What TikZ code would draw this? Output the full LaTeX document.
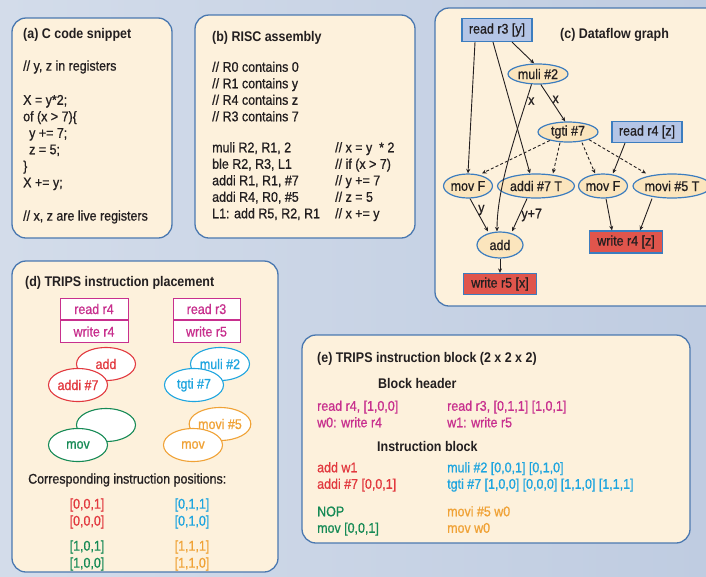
\documentclass[tikz,border=0pt]{standalone}
\usepackage{fontspec}
\setmainfont{Liberation Sans}[FakeStretch=0.89, UprightFeatures={FakeBold=0.8}]
\usetikzlibrary{shapes.geometric,arrows.meta}

\definecolor{bgL}{HTML}{D3DCEA}
\definecolor{bgM}{HTML}{EEF1F7}
\definecolor{bgR}{HTML}{BFCCE1}
\definecolor{panelfill}{HTML}{FDF1DC}
\definecolor{panelline}{HTML}{4A78B0}
\definecolor{nodefill}{HTML}{FBE5BD}
\definecolor{nodeline}{HTML}{3C7DBF}
\definecolor{readfill}{HTML}{B4C5E6}
\definecolor{writefill}{HTML}{E0554C}
\definecolor{ink}{HTML}{231F20}
\definecolor{cred}{HTML}{E2393F}
\definecolor{cblue}{HTML}{1EA5DF}
\definecolor{cgreen}{HTML}{168A55}
\definecolor{corange}{HTML}{F0A236}
\definecolor{cmag}{HTML}{C8308E}

\newcommand\bodyfont{\fontsize{14}{16.5}\selectfont}
\newcommand\posfont{\fontsize{14}{17}\selectfont}

\tikzset{
  panel/.style={draw=panelline, line width=1.3pt, fill=panelfill, rounded corners=14pt},
  txt/.style={inner sep=0pt, anchor=west, font=\bodyfont, text=ink},
  ttl/.style={txt, font=\bodyfont\bfseries},
  block/.style={inner sep=0pt, anchor=north west, align=left, font=\bodyfont, text=ink},
  posblock/.style={inner sep=0pt, anchor=north, align=center, font=\posfont},
  dfop/.style={ellipse, draw=nodeline, fill=nodefill, line width=1.2pt, inner sep=0pt,
               minimum height=24pt, font=\bodyfont, text=ink},
  dfread/.style={rectangle, draw=nodeline, fill=readfill, line width=1.2pt, inner sep=0pt,
                 minimum width=70pt, minimum height=23pt, font=\bodyfont, text=ink},
  dfwrite/.style={dfread, fill=writefill},
  flow/.style={draw=ink, line width=0.9pt, -{Stealth[length=4.5pt,width=4pt]}},
  pred/.style={flow, dash pattern=on 3pt off 2.2pt},
  elbl/.style={font=\bodyfont, inner sep=1.5pt, text=ink},
  slot/.style={ellipse, fill=white, line width=1.1pt, inner sep=0pt,
               minimum width=59pt, minimum height=33pt, font=\bodyfont},
  regbox/.style={rectangle, draw=cmag, fill=white, line width=1pt, text=cmag,
                 minimum width=68pt, minimum height=21.5pt, inner sep=0pt, font=\bodyfont},
}

\begin{document}
\begin{tikzpicture}[x=1pt,y=-1pt]
\useasboundingbox (0,0) rectangle (706,576);
\clip (0,0) rectangle (706,576);
\shade[left color=bgL, middle color=bgM, right color=bgR] (0,0) rectangle (706,576);

% ---------- panels ----------
\draw[panel] (12,18) rectangle (172,238);
\draw[panel] (195,15) rectangle (415,238);
\draw[panel] (435,8) rectangle (730,306);
\draw[panel] (12,261) rectangle (278,572);
\draw[panel] (302,335) rectangle (690,543);

% ---------- (a) C code ----------
\node[ttl] (atitle) at (23,35) {(a) C code snippet};
\node[txt] (acmt1) at (23,67) {// y, z in registers};
\node[block] (acode) at (23,93) {\strut X = y*2;\\of (x > 7)\{\\\hspace{6pt}y += 7;\\\hspace{6pt}z = 5;\\\}\\X += y;};
\node[txt] (acmt2) at (23,217) {// x, z are live registers};

% ---------- (b) RISC assembly ----------
\node[ttl] (btitle) at (212,38) {(b) RISC assembly};
\node[block] (bregs) at (212,60) {\strut // R0 contains 0\\// R1 contains y\\// R4 contains z\\// R3 contains 7};
\node[block] (binstr) at (212,140.5) {\strut muli R2, R1, 2\\ble R2, R3, L1\\addi R1, R1, \#7\\addi R4, R0, \#5\\L1: add R5, R2, R1};
\node[block] (bcmt) at (335,140.5) {\strut // x = y \ * 2\\// if (x > 7)\\// y += 7\\// z = 5\\// x += y};

% ---------- (c) dataflow graph ----------
\node[ttl] (ctitle) at (560,35) {(c) Dataflow graph};
\node[dfread] (r3) at (497,30) {read r3 [y]};
\node[dfop, minimum width=60pt, minimum height=20pt] (muli) at (538,74) {muli \#2};
\node[dfop, minimum width=60pt, minimum height=20pt] (tgti) at (568,132) {tgti \#7};
\node[dfread, minimum height=21pt] (r4) at (647,132) {read r4 [z]};
\node[dfop, minimum width=48pt] (movF1) at (468,186) {mov F};
\node[dfop, minimum width=77pt] (addi) at (536,186) {addi \#7 T};
\node[dfop, minimum width=47pt] (movF2) at (603,186) {mov F};
\node[dfop, minimum width=78pt] (movi) at (672,186) {movi \#5 T};
\node[dfop, minimum width=46pt, minimum height=26pt] (add) at (500,245) {add};
\node[dfwrite, minimum width=73pt, minimum height=21pt] (w5) at (500,284) {write r5 [x]};
\node[dfwrite, minimum width=73pt, minimum height=22pt] (w4) at (626,242) {write r4 [z]};

\draw[flow] ([xshift=-22pt]r3.south) -- (movF1.north);
\draw[flow] ([xshift=-4pt]r3.south) -- ([xshift=-6pt]addi.north);
\draw[flow] ([xshift=15pt]r3.south) -- (muli.110);
\draw[flow] (muli.238) .. controls +(-14,45) and +(0,-45) .. node[elbl, pos=0.12, right] {x} ([xshift=-3pt]add.north);
\draw[flow] (muli.-75) -- node[elbl, pos=0.4, right] {x} (tgti.105);
\draw[pred] (tgti.205) -- ([xshift=14pt]movF1.north);
\draw[pred] ([xshift=-8pt]tgti.south) -- ([xshift=17pt]addi.north);
\draw[pred] ([xshift=14pt]tgti.south) -- ([xshift=-8pt]movF2.north);
\draw[pred] (tgti.-20) -- ([xshift=-26pt]movi.north);
\draw[flow] ([xshift=-22pt]r4.south) -- ([xshift=10pt]movF2.north);
\draw[flow] ([xshift=2pt]movF1.south) -- node[elbl, pos=0.35, right] {y} ([xshift=-12pt]add.north);
\draw[flow] ([xshift=-9pt]addi.south) -- node[elbl, pos=0.5, right] {y+7} ([xshift=12pt]add.north);
\draw[flow] (add.south) -- (w5.north);
\draw[flow] ([xshift=3pt]movF2.south) -- ([xshift=-14pt]w4.north);
\draw[flow] ([xshift=-20pt]movi.south) -- ([xshift=14pt]w4.north);

% ---------- (d) instruction placement ----------
\node[ttl] (dtitle) at (25,283) {(d) TRIPS instruction placement};
\node[regbox] (rr4) at (94,309) {read r4};
\node[regbox, anchor=north] (wr4) at (rr4.south) {write r4};
\node[regbox, minimum width=67pt] (rr3) at (206.5,309) {read r3};
\node[regbox, minimum width=67pt, anchor=north] (wr5) at (rr3.south) {write r5};

\node[slot, draw=cred, text=cred] (eadd) at (106,364) {add};
\node[slot, draw=cred, text=cred] (eaddi) at (78,385) {addi \#7};
\node[slot, draw=cblue, text=cblue] (emuli) at (220,364) {muli \#2};
\node[slot, draw=cblue, text=cblue] (etgti) at (194,385) {tgti \#7};
\node[slot, draw=cgreen] (egreen) at (106,425) {};
\node[slot, draw=cgreen, text=cgreen] (emov) at (78,445) {mov};
\node[slot, draw=corange, text=corange] (emovi) at (220,424) {movi \#5};
\node[slot, draw=corange, text=corange] (emov2) at (193,445) {mov};

\node[txt] (dcorr) at (28,480) {Corresponding instruction positions:};
\node[posblock, text=cred] (pred1) at (87,496.5) {\strut[0,0,1]\\{}[0,0,0]};
\node[posblock, text=cblue] (pblue) at (192,496.5) {\strut[0,1,1]\\{}[0,1,0]};
\node[posblock, text=cgreen] (pgreen) at (87,538.5) {\strut[1,0,1]\\{}[1,0,0]};
\node[posblock, text=corange] (porange) at (192,538.5) {\strut[1,1,1]\\{}[1,1,0]};

% ---------- (e) instruction block ----------
\node[ttl] (etitle) at (317,359) {(e) TRIPS instruction block (2 x 2 x 2)};
\node[ttl] (ehdr) at (378,383) {Block header};
\node[block, text=cmag] (eh1) at (317,399) {\strut read r4, [1,0,0]\\w0: write r4};
\node[block, text=cmag] (eh2) at (447,399) {\strut read r3, [0,1,1] [1,0,1]\\w1: write r5};
\node[ttl] (eins) at (377,446) {Instruction block};
\node[block, text=cred] (ei1) at (317,460.5) {\strut add w1\\addi \#7 [0,0,1]};
\node[block, text=cblue] (ei2) at (447,460.5) {\strut muli \#2 [0,0,1] [0,1,0]\\tgti \#7 [1,0,0] [0,0,0] [1,1,0] [1,1,1]};
\node[block, text=cgreen] (ei3) at (317,504.5) {\strut NOP\\mov [0,0,1]};
\node[block, text=corange] (ei4) at (447,504.5) {\strut movi \#5 w0\\mov w0};
\end{tikzpicture}
\end{document}
